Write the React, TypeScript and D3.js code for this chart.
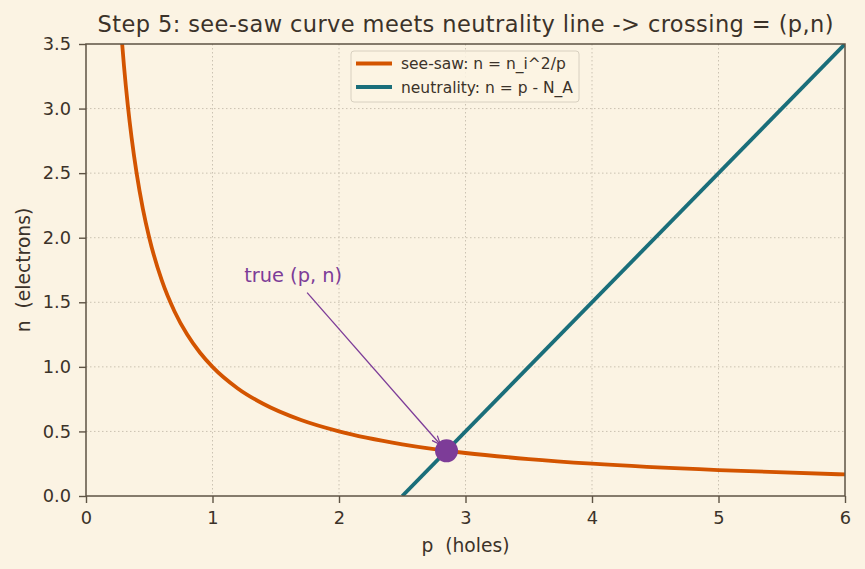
import React, { useEffect, useRef } from 'react';
import * as d3 from 'd3';

// see-saw curve samples (p, n)
const seesawP = [0.28, 0.3, 0.33, 0.36, 0.4, 0.45, 0.5, 0.6, 0.7, 0.8, 0.9, 1.0, 1.2, 1.4, 1.7, 2.0, 2.5, 3.0, 3.5, 4.0, 5.0, 6.0];
const seesawN = [3.57, 3.333, 3.03, 2.778, 2.5, 2.222, 2.0, 1.667, 1.429, 1.25, 1.111, 1.0, 0.833, 0.714, 0.588, 0.5, 0.4, 0.333, 0.286, 0.25, 0.2, 0.167];

// neutrality line end points (p, n)
const neutralP = [2.5, 6.0];
const neutralN = [0.0, 3.5];

// crossing point and annotation label position
const crossP = 2.85;
const crossN = 0.35;
const labelP = 1.25;
const labelN = 1.66;

const xTicks = [0, 1, 2, 3, 4, 5, 6];
const yTicks = [0, 0.5, 1.0, 1.5, 2.0, 2.5, 3.0, 3.5];

const legendLabels = ['see-saw: n = n_i^2/p', 'neutrality: n = p - N_A'];

const ORANGE = '#d35400';
const TEAL = '#1a6e7a';
const PURPLE = '#7d3c98';
const INK = '#3b3229';
const SPINE = '#5e5344';
const BG = '#fbf3e3';

export default function App() {
  const ref = useRef<SVGSVGElement>(null);

  useEffect(() => {
    document.body.style.margin = '0';
    document.body.style.background = BG;

    const svgWidth = 865, svgHeight = 569;
    const margin = { top: 44, right: 20, bottom: 73, left: 86 };
    const width = svgWidth - margin.left - margin.right;
    const height = svgHeight - margin.top - margin.bottom;
    const font = 'DejaVu Sans, sans-serif';

    d3.select(ref.current).selectAll('*').remove();

    const root = d3.select(ref.current)
      .attr('width', svgWidth)
      .attr('height', svgHeight)
      .style('display', 'block')
      .style('background', BG);

    root.append('rect').attr('width', svgWidth).attr('height', svgHeight).attr('fill', BG);

    const defs = root.append('defs');
    defs.append('clipPath').attr('id', 'plotclip')
      .append('rect').attr('width', width).attr('height', height);
    defs.append('marker')
      .attr('id', 'arrowhead')
      .attr('viewBox', '0 0 10 10')
      .attr('refX', 10).attr('refY', 5)
      .attr('markerWidth', 9).attr('markerHeight', 9)
      .attr('markerUnits', 'userSpaceOnUse')
      .attr('orient', 'auto')
      .append('path')
      .attr('d', 'M0,1 L10,5 L0,9')
      .attr('fill', 'none')
      .attr('stroke', PURPLE)
      .attr('stroke-width', 1.4);

    const svg = root.append('g')
      .attr('transform', `translate(${margin.left},${margin.top})`);

    const x = d3.scaleLinear().domain([0, 6]).range([0, width]);
    const y = d3.scaleLinear().domain([0, 3.5]).range([height, 0]);

    // grid
    svg.append('g').selectAll('line').data(xTicks.slice(1, -1)).join('line')
      .attr('x1', d => x(d)).attr('x2', d => x(d))
      .attr('y1', 0).attr('y2', height)
      .attr('stroke', '#cbc2b2').attr('stroke-width', 1).attr('stroke-dasharray', '1.5,2.5');
    svg.append('g').selectAll('line').data(yTicks.slice(1, -1)).join('line')
      .attr('y1', d => y(d)).attr('y2', d => y(d))
      .attr('x1', 0).attr('x2', width)
      .attr('stroke', '#cbc2b2').attr('stroke-width', 1).attr('stroke-dasharray', '1.5,2.5');

    const plot = svg.append('g').attr('clip-path', 'url(#plotclip)');

    const seesaw = seesawP.map((p, i) => [p, seesawN[i]] as [number, number]);
    const neutral = neutralP.map((p, i) => [p, neutralN[i]] as [number, number]);

    const line = d3.line<[number, number]>()
      .x(d => x(d[0]))
      .y(d => y(d[1]))
      .curve(d3.curveMonotoneX);

    plot.append('path')
      .datum(seesaw)
      .attr('fill', 'none')
      .attr('stroke', ORANGE)
      .attr('stroke-width', 3.8)
      .attr('d', line);

    plot.append('path')
      .datum(neutral)
      .attr('fill', 'none')
      .attr('stroke', TEAL)
      .attr('stroke-width', 3.8)
      .attr('d', d3.line<[number, number]>().x(d => x(d[0])).y(d => y(d[1])));

    // annotation arrow
    const ax0 = x(labelP) + 63, ay0 = y(labelN) + 11;
    const ax1 = x(crossP) - 6, ay1 = y(crossN) - 6;
    svg.append('line')
      .attr('x1', ax0).attr('y1', ay0)
      .attr('x2', ax1).attr('y2', ay1)
      .attr('stroke', PURPLE).attr('stroke-width', 1.3)
      .attr('marker-end', 'url(#arrowhead)');

    svg.append('text')
      .attr('x', x(labelP)).attr('y', y(labelN))
      .attr('fill', PURPLE)
      .attr('font-family', font)
      .attr('font-size', 19.4)
      .text('true (p, n)');

    svg.append('circle')
      .attr('cx', x(crossP)).attr('cy', y(crossN))
      .attr('r', 11.5)
      .attr('fill', PURPLE);

    // frame
    svg.append('rect')
      .attr('width', width).attr('height', height)
      .attr('fill', 'none').attr('stroke', SPINE).attr('stroke-width', 1.5);

    // x axis
    const xAxis = svg.append('g')
      .attr('transform', `translate(0,${height})`)
      .call(d3.axisBottom(x).tickValues(xTicks).tickFormat(d3.format('d')).tickSize(7).tickPadding(8));
    xAxis.select('.domain').remove();
    xAxis.selectAll('line').attr('stroke', SPINE).attr('stroke-width', 1.4);
    xAxis.selectAll('text').attr('fill', INK).attr('font-family', font).attr('font-size', 17.8);

    // y axis
    const yAxis = svg.append('g')
      .call(d3.axisLeft(y).tickValues(yTicks).tickFormat(d3.format('.1f')).tickSize(7).tickPadding(8));
    yAxis.select('.domain').remove();
    yAxis.selectAll('line').attr('stroke', SPINE).attr('stroke-width', 1.4);
    yAxis.selectAll('text').attr('fill', INK).attr('font-family', font).attr('font-size', 17.8);

    // axis labels
    svg.append('text')
      .attr('x', width / 2).attr('y', height + 56)
      .attr('text-anchor', 'middle')
      .attr('fill', INK).attr('font-family', font).attr('font-size', 18.7)
      .attr('xml:space', 'preserve')
      .text('p  (holes)');

    svg.append('text')
      .attr('transform', `translate(${-56},${height / 2}) rotate(-90)`)
      .attr('text-anchor', 'middle')
      .attr('fill', INK).attr('font-family', font).attr('font-size', 18.7)
      .attr('xml:space', 'preserve')
      .text('n  (electrons)');

    // title
    svg.append('text')
      .attr('x', width / 2).attr('y', -12)
      .attr('text-anchor', 'middle')
      .attr('fill', INK).attr('font-family', font).attr('font-size', 22.5)
      .attr('textLength', 736)
      .attr('lengthAdjust', 'spacing')
      .text('Step 5: see-saw curve meets neutrality line -> crossing = (p,n)');

    // legend
    const lg = svg.append('g').attr('transform', `translate(${265},${7})`);
    lg.append('rect')
      .attr('width', 228).attr('height', 51)
      .attr('rx', 3)
      .attr('fill', BG).attr('fill-opacity', 0.85)
      .attr('stroke', '#d8d0c0').attr('stroke-width', 1);
    [ORANGE, TEAL].forEach((c, i) => {
      const yy = 12.5 + i * 23.5;
      lg.append('line')
        .attr('x1', 5).attr('x2', 41)
        .attr('y1', yy).attr('y2', yy)
        .attr('stroke', c).attr('stroke-width', 3.8);
      lg.append('text')
        .attr('x', 50).attr('y', yy + 5.5)
        .attr('fill', INK).attr('font-family', font).attr('font-size', 15.5)
        .text(legendLabels[i]);
    });
  }, []);

  return <svg ref={ref} />;
}
